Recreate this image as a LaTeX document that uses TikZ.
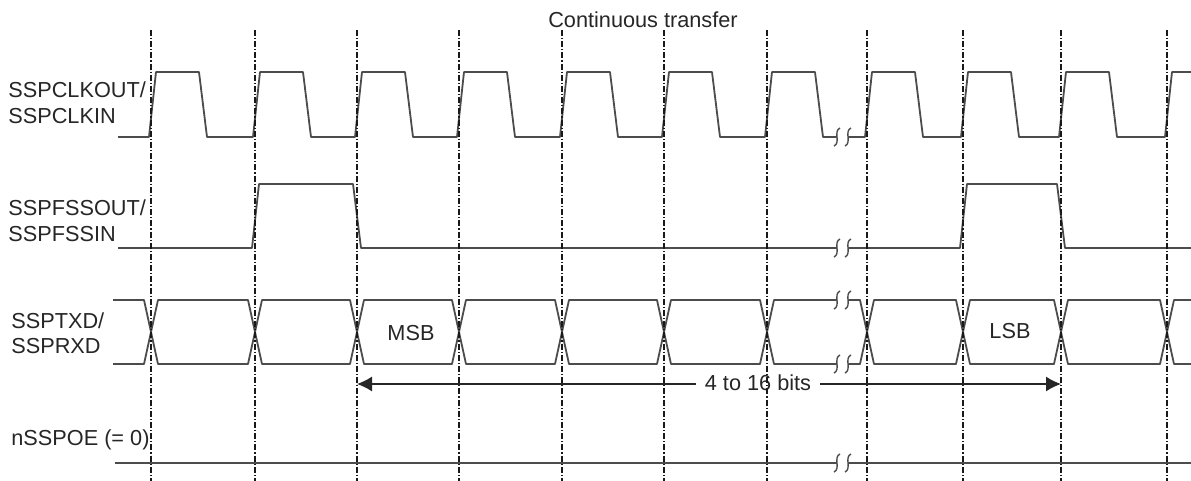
\documentclass[tikz,border=0pt]{standalone}
\usepackage{fontspec}
\setmainfont{Liberation Sans}
\usetikzlibrary{arrows.meta, positioning}

\tikzset{
  wave/.style={line width=0.9pt, draw=black!70, line join=round},
  gridline/.style={line width=0.6pt, draw=black!90, dash pattern=on 3pt off 1pt on 0.6pt off 1pt},
  brkmark/.style={line width=0.7pt, draw=black!70},
  sigtext/.style={anchor=west, inner sep=0pt, text=black!85, font=\fontsize{10.85}{13}\selectfont},
  celltext/.style={inner sep=0pt, text=black!85, font=\fontsize{10.85}{13}\selectfont},
  spantext/.style={celltext, inner xsep=4.5pt},
  span/.style={line width=0.6pt, draw=black!85, -{Latex[length=7.5pt,width=7.5pt]}},
}
% S-shaped break mark centred at (x,y)
\newcommand{\breakmark}[2]{%
  \draw[brkmark] (#1+3,#2-9) .. controls (#1-4,#2-6) and (#1+4,#2+6) .. (#1-3,#2+9);}

\begin{document}
\begin{tikzpicture}[x=0.5pt, y=-0.5pt]

    \useasboundingbox (0,0) rectangle (1191,481);

    % --- TITLE ---
    \node[celltext] (title) at (643,20) {Continuous transfer};

    % --- SIGNAL NAMES ---
    \node[sigtext] (clkout) at (8,90)  {SSPCLKOUT/};
    \node[sigtext] (clkin)  at (8,116) {SSPCLKIN};
    \node[sigtext] (fssout) at (8,208) {SSPFSSOUT/};
    \node[sigtext] (fssin)  at (8,234) {SSPFSSIN};
    \node[sigtext] (txd)    at (11,321) {SSPTXD/};
    \node[sigtext] (rxd)    at (11,346) {SSPRXD};
    \node[sigtext] (oe)     at (11,440) {nSSPOE (= 0)};

    % --- CLOCK ---
    \draw[wave] (118,137) foreach \d in {151,255,357,459,562,664,767}
        { -- (\d-2,137) -- (\d+5,72) -- (\d+48,72) -- (\d+56,137) } -- (837,137);
    \draw[wave] (848,137) foreach \d in {867,963,1061}
        { -- (\d-2,137) -- (\d+5,72) -- (\d+48,72) -- (\d+56,137) }
        -- (1165,137) -- (1172,72) -- (1191,72);

    % --- FRAME SYNC ---
    \draw[wave] (118,248) -- (252,248) -- (259,184) -- (353,184) -- (361,248) -- (837,248);
    \draw[wave] (848,248) -- (960,248) -- (967,184) -- (1057,184) -- (1065,248) -- (1191,248);

    % --- DATA ---
    \draw[wave] (113,300) -- (144,300) -- (151,332) -- (144,364) -- (113,364);
    \foreach \a/\b in {151/255,255/357,357/459,459/562,562/664,664/767,867/963,963/1061,1061/1167}
        \draw[wave] (\a,332) -- (\a+7,300) -- (\b-7,300) -- (\b,332)
                    -- (\b-7,364) -- (\a+7,364) -- cycle;
    \draw[wave] (837,300) -- (774,300) -- (767,332) -- (774,364) -- (837,364);
    \draw[wave] (848,300) -- (860,300) -- (867,332) -- (860,364) -- (848,364);
    \draw[wave] (1191,300) -- (1174,300) -- (1167,332) -- (1174,364) -- (1191,364);

    \node[celltext] (msb) at (411,333) {MSB};
    \node[celltext] (lsb) at (1010,331) {LSB};

    % --- OUTPUT ENABLE ---
    \draw[wave] (115,463) -- (837,463);
    \draw[wave] (848,463) -- (1191,463);

    % --- BREAK MARKS ---
    \foreach \y in {137,248,300,364,463} {
        \breakmark{837}{\y}
        \breakmark{848}{\y}
    }

    % --- WORD LENGTH ---
    \coordinate (spanl) at (357,384);
    \coordinate (spanr) at (1061,384);
    \node[spantext] (bits) at (758,383) {4 to 16 bits};
    \draw[span] (bits.west |- spanl) -- (spanl);
    \draw[span] (bits.east |- spanr) -- (spanr);

    % --- TIMING GRID ---
    \foreach \d in {151,255,357,459,562,664,767,867,963,1061,1167}
        \draw[gridline] (\d,30) -- (\d,481);

\end{tikzpicture}
\end{document}
